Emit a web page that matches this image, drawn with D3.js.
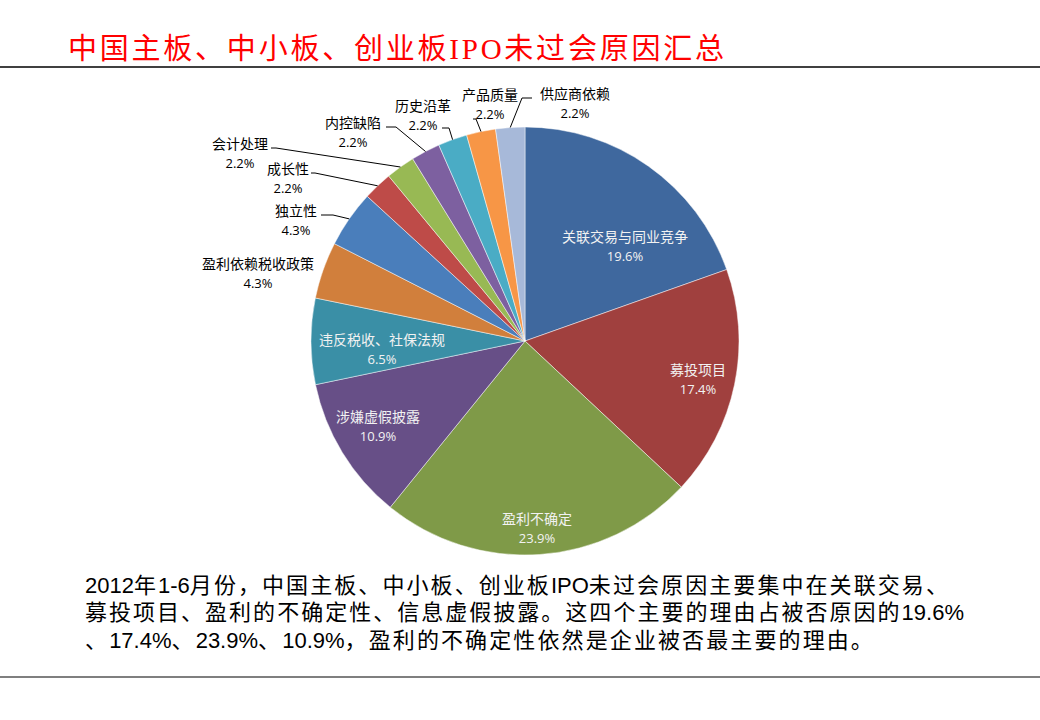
<!DOCTYPE html>
<html><head><meta charset="utf-8">
<script src="https://cdn.jsdelivr.net/npm/d3@7"></script>
<style>body{margin:0;background:#fff}svg{display:block}</style>
</head><body>
<svg id="c" width="1040" height="720"></svg>
<script>
// ---- data ----
const categories = ["关联交易与同业竞争","募投项目","盈利不确定","涉嫌虚假披露","违反税收、社保法规","盈利依赖税收政策","独立性","成长性","会计处理","内控缺陷","历史沿革","产品质量","供应商依赖"];
const shares = [19.6,17.4,23.9,10.9,6.5,4.3,4.3,2.2,2.2,2.2,2.2,2.2,2.2];
const sliceColors = ["#3F689E","#A0403E","#7F9A48","#674F87","#3A8FA6","#D17F3C","#4A7EBB","#BE4B48","#98B954","#7D60A0","#4AACC5","#F79646","#A7B9D9"];
const titleText = "中国主板、中小板、创业板IPO未过会原因汇总";
const bodyLines = [
  "2012年1-6月份，中国主板、中小板、创业板IPO未过会原因主要集中在关联交易、",
  "募投项目、盈利的不确定性、信息虚假披露。这四个主要的理由占被否原因的19.6%",
  "、17.4%、23.9%、10.9%，盈利的不确定性依然是企业被否最主要的理由。"
];

// ---- layout (label placement, not data) ----
const labelLayout = {
  "关联交易与同业竞争": {x:625, y:236, inside:true},
  "募投项目": {x:698, y:369, inside:true},
  "盈利不确定": {x:537, y:518, inside:true},
  "涉嫌虚假披露": {x:378, y:416, inside:true},
  "违反税收、社保法规": {x:382, y:339, inside:true},
  "盈利依赖税收政策": {x:258, y:263},
  "独立性": {x:296, y:210, elbow:[[333,215],[321,215]]},
  "成长性": {x:288, y:168, elbow:[[315,173],[311,173]]},
  "会计处理": {x:240, y:143, elbow:[[276,148],[271,148]]},
  "内控缺陷": {x:353, y:122, elbow:[[396,127],[386,127]]},
  "历史沿革": {x:423, y:105, elbow:[[449,128],[442,128]]},
  "产品质量": {x:490, y:94, elbow:[[476,119],[473,119]]},
  "供应商依赖": {x:575, y:93, elbow:[[522,98],[532,98]]}
};

const svg = d3.select("#c");
const W = 1040;

// title
svg.append("text")
  .attr("x", 68).attr("y", 59)
  .attr("textLength", 656).attr("lengthAdjust", "spacing")
  .style("font-family", "'Liberation Serif','Noto Sans CJK SC',serif")
  .style("font-size", "29px")
  .attr("fill", "#FF0000")
  .text(titleText);

svg.append("line").attr("x1",0).attr("x2",W).attr("y1",67).attr("y2",67)
  .attr("stroke","#000").attr("stroke-width",1.5);
svg.append("line").attr("x1",0).attr("x2",W).attr("y1",677).attr("y2",677)
  .attr("stroke","#000").attr("stroke-width",1.2);

// pie
const cx = 525, cy = 341, R = 214;
const pie = d3.pie().sort(null).value(d => d.v).startAngle(0).endAngle(2*Math.PI);
const data = categories.map((c,i) => ({c, v: shares[i], color: sliceColors[i]}));
const arcs = pie(data);
const arc = d3.arc().innerRadius(0).outerRadius(R);
const edge = d3.arc().innerRadius(R).outerRadius(R);

const g = svg.append("g").attr("transform", `translate(${cx},${cy})`);
g.selectAll("path.slice").data(arcs).join("path")
  .attr("class","slice")
  .attr("d", arc)
  .attr("fill", d => d.data.color)
  .attr("stroke", "#ffffff").attr("stroke-opacity", 0.6).attr("stroke-width", 0.8);

// leader lines
arcs.forEach(d => {
  const L = labelLayout[d.data.c];
  if (!L.elbow) return;
  const p = edge.centroid(d);
  const pts = [[p[0]+cx, p[1]+cy], ...L.elbow];
  svg.append("path")
    .attr("d", d3.line()(pts))
    .attr("fill","none").attr("stroke","#000").attr("stroke-width",1);
});

// labels
arcs.forEach(d => {
  const L = labelLayout[d.data.c];
  const col = L.inside ? "#F2F2F2" : "#000";
  svg.append("text")
    .attr("x", L.x).attr("y", L.y)
    .attr("text-anchor","middle").attr("dominant-baseline","central")
    .style("font-family","'Noto Sans CJK SC',sans-serif")
    .style("font-size","14px")
    .attr("fill", col)
    .text(d.data.c);
  svg.append("text")
    .attr("x", L.x).attr("y", L.y + 19.5)
    .attr("text-anchor","middle").attr("dominant-baseline","central")
    .style("font-family","'Open Sans','Noto Sans',sans-serif")
    .style("font-size","13px")
    .attr("fill", col)
    .text(d.data.v.toFixed(1) + "%");
});

// body text: spacing only on CJK runs so Latin stays compact
const bodyEnds = [950, 964, 875];
const baselines = [593, 620, 648];
bodyLines.forEach((t,i) => {
  const runs = t.match(/[\x00-\x7F]+|[^\x00-\x7F]+/g);
  const txt = svg.append("text")
    .attr("x", 85).attr("y", baselines[i])
    .style("font-family","'Liberation Sans','Noto Sans CJK SC',sans-serif")
    .style("font-size","22px")
    .attr("fill","#000");
  const spans = runs.map(r => txt.append("tspan").text(r).datum(/[^\x00-\x7F]/.test(r)));
  const natural = txt.node().getComputedTextLength();
  const nCjk = runs.filter(r => /[^\x00-\x7F]/.test(r)).reduce((s,r)=>s+r.length,0);
  const ls = Math.max(0, (bodyEnds[i]-85-natural)/nCjk);
  spans.forEach(s => { if (s.datum()) s.style("letter-spacing", ls + "px"); });
});
</script>
</body></html>
